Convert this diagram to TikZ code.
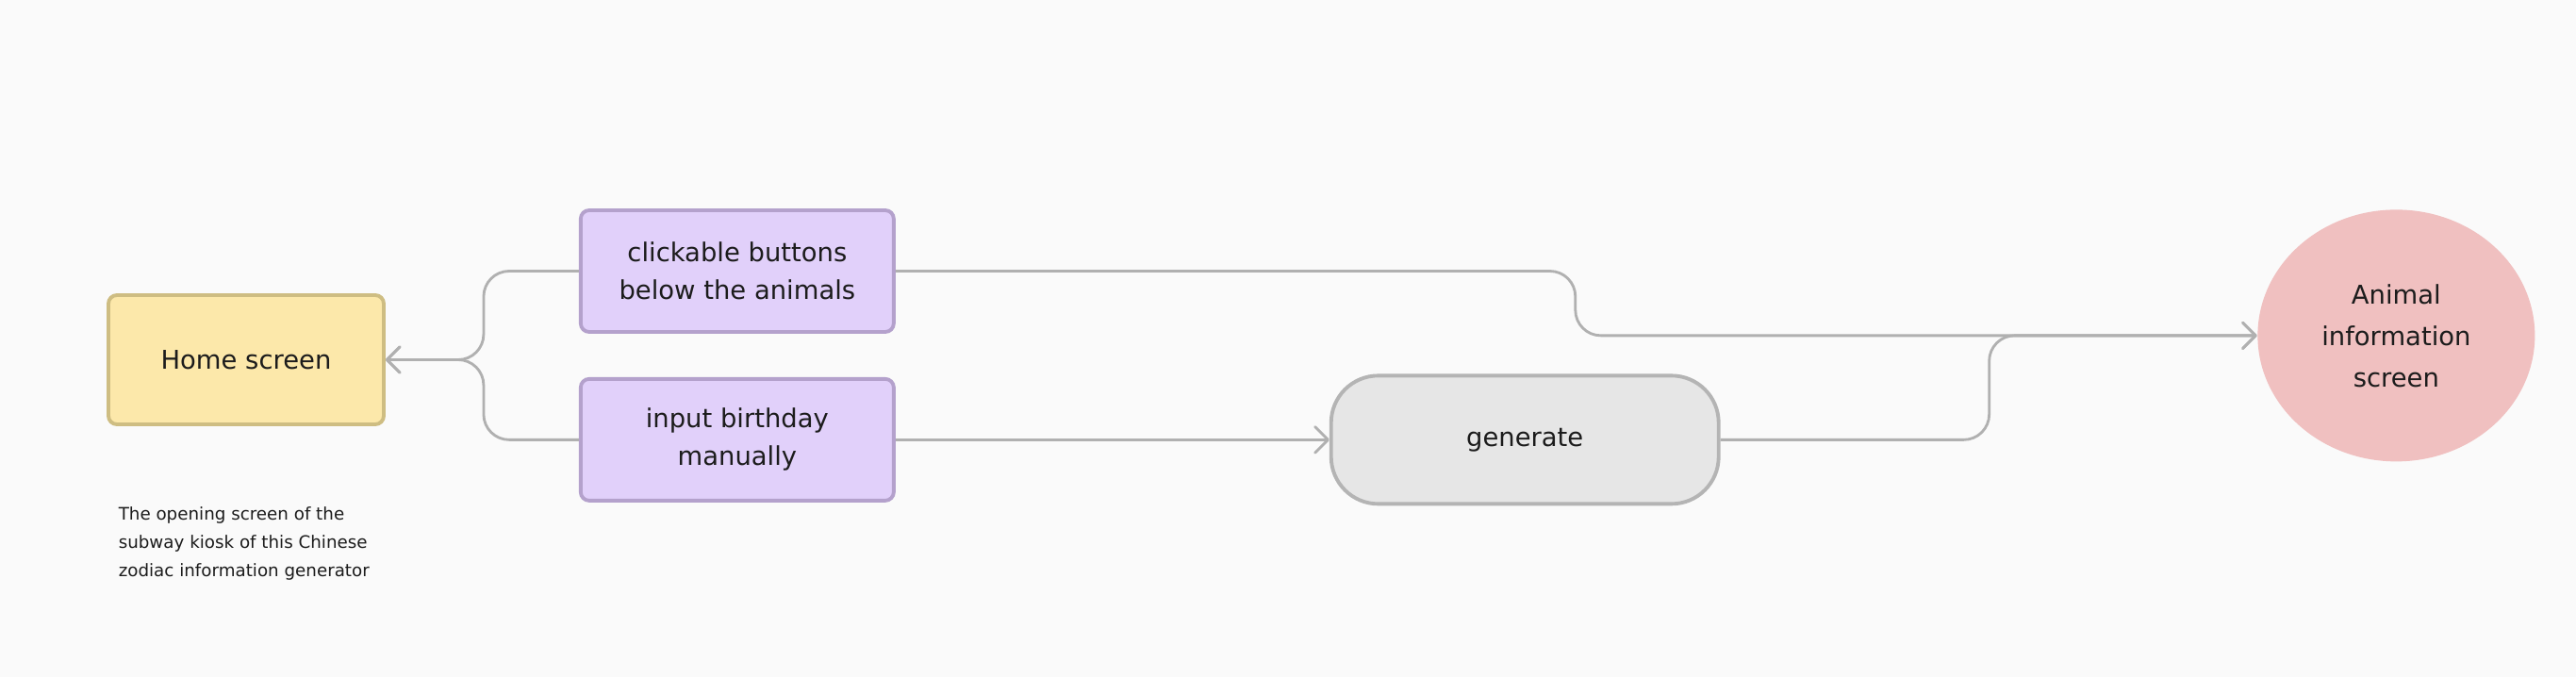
\documentclass[tikz,border=0pt]{standalone}
\usepackage{fontspec}
\setmainfont{DejaVu Sans}
\usetikzlibrary{shapes,arrows,arrows.meta,positioning,fit,calc,backgrounds}

\definecolor{bgcol}{HTML}{FAFAFA}
\definecolor{homefill}{HTML}{FCE8AA}
\definecolor{homedraw}{HTML}{CEBD82}
\definecolor{pickfill}{HTML}{E1D0FA}
\definecolor{pickdraw}{HTML}{B4A1CC}
\definecolor{genfill}{HTML}{E6E6E6}
\definecolor{gendraw}{HTML}{B4B4B4}
\definecolor{screenfill}{HTML}{F0C0C0}
\definecolor{linecol}{HTML}{B0B0B0}
\definecolor{textcol}{HTML}{1C1C1C}

\begin{document}
\begin{tikzpicture}[
    node distance=0.46cm and 2.05cm,
    box/.style={rectangle, draw, rounded corners=0.09cm, line width=1.1pt, align=center, text=textcol, font=\fontsize{7.8}{11.4}\selectfont},
    pick/.style={box, fill=pickfill, draw=pickdraw, minimum width=3.32cm, minimum height=1.29cm},
    gen/.style={box, fill=genfill, draw=gendraw, rounded corners=0.5cm, minimum width=4.11cm, minimum height=1.36cm},
    screen/.style={ellipse, fill=screenfill, inner sep=0pt, minimum width=2.94cm, minimum height=2.67cm, align=center, text=textcol, font=\fontsize{7.8}{12.5}\selectfont},
    note/.style={align=left, inner sep=0pt, text=textcol, font=\fontsize{5.2}{8.5}\selectfont},
    arrow/.style={-{Straight Barb[length=3.9pt, width=7.8pt, round]}, line width=0.8pt, draw=linecol, rounded corners=0.27cm}
]

% Canvas
\fill[bgcol] (0,0) rectangle (27.32,7.18);

% Start
\node[box, fill=homefill, draw=homedraw, minimum width=2.92cm, minimum height=1.37cm] (home) at (2.61,3.365) {Home screen};
\node[note, below=0.85cm of home.south west, anchor=north west, xshift=0.12cm] (caption) {The opening screen of the\\subway kiosk of this Chinese\\zodiac information generator};

% Two ways in
\node[pick, right=of home, yshift=0.94cm] (buttons) {clickable buttons\\below the animals};
\node[pick, below=of buttons] (birthday) {input birthday\\manually};

% Generate
\node[gen, right=4.6cm of birthday] (generate) {generate};

% Result
\node[screen, right=5.69cm of generate, yshift=1.105cm] (animal) {Animal\\information\\screen};

% Arrows
\draw[arrow] (buttons.west) -- ++(-1.01,0) |- (home.east);
\draw[arrow] (birthday.west) -- ++(-1.01,0) |- (home.east);
\draw[arrow] (birthday) -- (generate);
\draw[arrow] (buttons.east) -- ++(7.21,0) |- (animal.west);
\draw[arrow] (generate.east) -- ++(2.85,0) |- (animal.west);

\end{tikzpicture}
\end{document}
